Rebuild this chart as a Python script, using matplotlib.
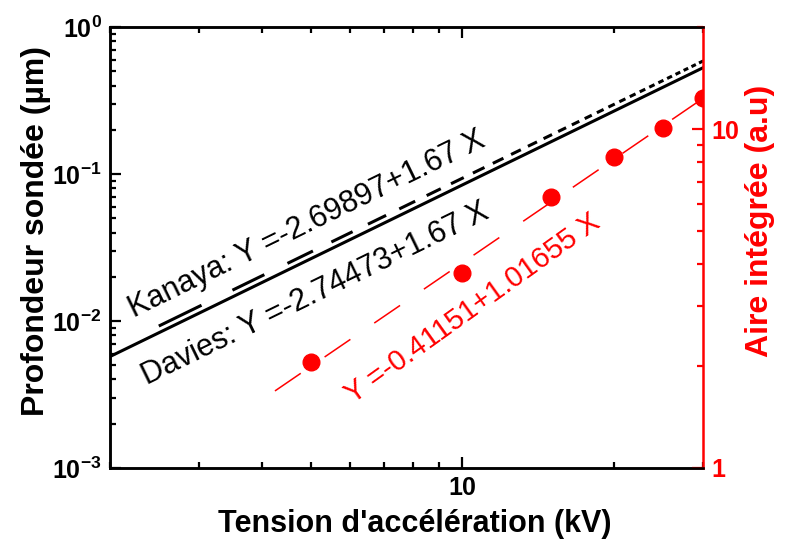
import matplotlib
matplotlib.use('Agg')
import matplotlib.pyplot as plt
import numpy as np

plt.rcParams['font.family'] = ['Liberation Sans', 'DejaVu Sans']
plt.rcParams['mathtext.fontset'] = 'custom'
plt.rcParams['mathtext.rm'] = 'Liberation Sans'
plt.rcParams['mathtext.bf'] = 'Liberation Sans:bold'
plt.rcParams['lines.scale_dashes'] = False

# fit coefficients (log10 Y = a + b log10 X)
kanaya_a, kanaya_b = -2.69897, 1.67
davies_a, davies_b = -2.74473, 1.67
aire_a, aire_b = -0.41151, 1.01655

# sampling of the Kanaya curve (kV)
kanaya_kv = [2.5, 3.5, 4.5, 5.5, 6.5, 7.5, 8.5, 9.5, 10.5, 11.5, 12.5, 13.5,
             14.5, 15.5, 16.5, 17.5, 18.5, 19.5, 20.5, 21.5, 22.5, 23.5, 24.5,
             25.5, 26.5, 27.5, 28.5, 29.5, 30.5]
davies_kv = [2, 30]
fit_kv = [4.25, 30]

# measured integrated area
tension_kv = [5, 10, 15, 20, 25, 30]
aire = [2.06, 3.75, 6.29, 8.26, 10.1, 12.35]


def powerlaw(x, a, b):
    x = np.asarray(x, dtype=float)
    return 10 ** (a + b * np.log10(x))


fig = plt.figure(figsize=(7.94, 5.41), dpi=100)
ax = fig.add_axes([0.1385, 0.135, 0.7465, 0.815])
ax2 = ax.twinx()

# Kanaya: dashes restart on every sampled segment
for x0, x1 in zip(kanaya_kv[:-1], kanaya_kv[1:]):
    xe = x0 * (x1 / x0) ** 0.58
    ax.plot([x0, xe], powerlaw([x0, xe], kanaya_a, kanaya_b), color='black',
            lw=2.2, solid_capstyle='butt')
ax.plot(davies_kv, powerlaw(davies_kv, davies_a, davies_b), color='black', lw=2.2)

ax2.plot(fit_kv, powerlaw(fit_kv, aire_a, aire_b), color='red', lw=1.1,
         linestyle=(0, (22.5, 20.8)))
ax2.plot(tension_kv, aire, 'o', color='red', ms=12, mec='red')

ax.set_xscale('log')
ax.set_yscale('log')
ax2.set_yscale('log')
ax.set_xlim(2, 30)
ax.set_ylim(1e-3, 1)
ax2.set_ylim(1, 20)

ax.set_xticks([10])
ax.set_xticklabels(['10'])
ax.set_yticks([1e-3, 1e-2, 1e-1, 1])
ax.set_yticklabels([r'$\mathbf{10^{%d}}$' % e for e in (-3, -2, -1, 0)])
ax2.set_yticks([1, 10])
ax2.set_yticklabels(['1', '10'])

for lab in ax.get_xticklabels() + ax.get_yticklabels():
    lab.set_fontweight('bold')
    lab.set_fontsize(18)
for lab in ax2.get_yticklabels():
    lab.set_fontweight('bold')
    lab.set_fontsize(18)
    lab.set_color('red')

ax.tick_params(which='both', direction='in', top=True, right=False, width=1.6)
ax.tick_params(which='major', length=8, pad=6)
ax.tick_params(which='minor', length=4.5)
ax.tick_params(axis='y', which='minor', labelleft=False)
ax.tick_params(axis='x', which='minor', labelbottom=False)
ax2.tick_params(axis='y', which='both', direction='in', color='red', width=1.6)
ax2.tick_params(axis='y', which='major', length=8, pad=6)
ax2.tick_params(axis='y', which='minor', length=4.5, labelright=False)

for s in ax.spines.values():
    s.set_linewidth(1.8)
for s in ax2.spines.values():
    s.set_linewidth(1.8)
ax.spines['right'].set_visible(False)
ax2.spines['right'].set_color('red')

ax.set_xlabel("Tension d'accélération (kV)", fontsize=22, fontweight='bold')
ax.set_ylabel('Profondeur sondée (µm)', fontsize=23, fontweight='bold')
ax2.set_ylabel('Aire intégrée (a.u)', fontsize=23, fontweight='bold', color='red')
ax.xaxis.set_label_coords(0.514, -0.092)
ax.yaxis.set_label_coords(-0.1, 0.537)
ax2.yaxis.set_label_coords(1.072, 0.56)

ax.text(2.23, 0.0105, 'Kanaya: Y =-2.69897+1.67 X', fontsize=22, rotation=26,
        rotation_mode='anchor', ha='left', va='baseline')
ax.text(2.37, 0.00367, 'Davies: Y =-2.74473+1.67 X', fontsize=22, rotation=26,
        rotation_mode='anchor', ha='left', va='baseline')
ax2.text(6.07, 1.54, 'Y =-0.41151+1.01655 X', fontsize=21, rotation=35.6,
         rotation_mode='anchor', ha='left', va='baseline', color='red')

fig.savefig('out.png', dpi=100)
